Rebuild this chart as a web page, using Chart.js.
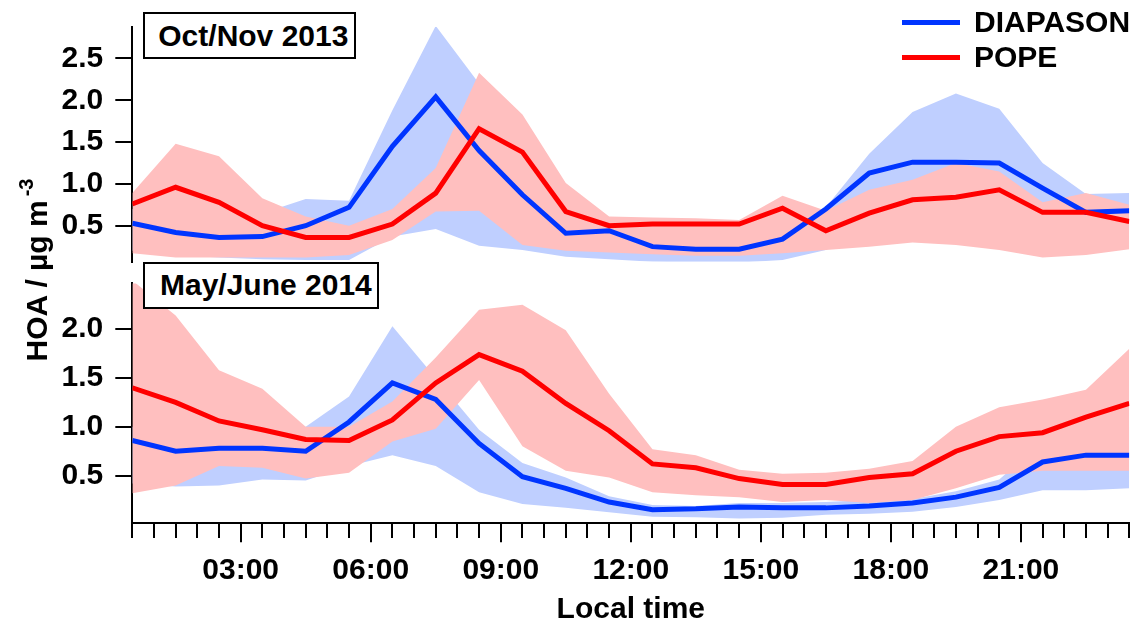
<!DOCTYPE html>
<html>
<head>
<meta charset="utf-8">
<script src="https://cdn.jsdelivr.net/npm/chart.js@4.4.0/dist/chart.umd.min.js"></script>
<style>
  html, body { margin: 0; padding: 0; background: #fff; }
  body { width: 1138px; height: 630px; position: relative; overflow: hidden;
         font-family: "Liberation Sans", Arial, sans-serif; font-weight: bold; color: #000; }
  canvas { position: absolute; left: 0; }
  #cTop { top: 0px; }
  #cBot { top: 272px; }
  .panel { position: absolute; box-sizing: border-box; border: 2px solid #000; background: #fff;
           font-size: 30px; white-space: nowrap; }
  .leg { position: absolute; font-size: 30px; line-height: 36px; white-space: nowrap; }
  .legline { position: absolute; width: 58px; height: 5px; }
  #ytitle { position: absolute; left: -78px; top: 255px; width: 230px; height: 30px; line-height: 30px;
            font-size: 30px; text-align: center; white-space: nowrap; transform: rotate(-90deg);
            transform-origin: 50% 50%; }
  #ytitle .sup { font-size: 20px; position: relative; top: -14px; margin-left: 4px; }
</style>
</head>
<body>
<canvas id="cTop" width="1138" height="272"></canvas>
<canvas id="cBot" width="1138" height="358"></canvas>
<div id="ytitle">HOA / µg m<span class="sup">-3</span></div>
<div id="legend"></div>
<div id="panels"></div>
<script>
// ---- data ----
const hours = [0.5, 1.5, 2.5, 3.5, 4.5, 5.5, 6.5, 7.5, 8.5, 9.5, 10.5, 11.5,
               12.5, 13.5, 14.5, 15.5, 16.5, 17.5, 18.5, 19.5, 20.5, 21.5, 22.5, 23.5];

const seriesNames = ['DIAPASON', 'POPE'];
const panelTitles = ['Oct/Nov 2013', 'May/June 2014'];

// Oct/Nov 2013
const diapasonOct      = [0.53, 0.42, 0.36, 0.37, 0.50, 0.72, 1.45, 2.04, 1.40, 0.87, 0.41, 0.44, 0.25, 0.22, 0.22, 0.34, 0.70, 1.13, 1.26, 1.26, 1.25, 0.95, 0.66, 0.68];
const diapasonOctUpper = [0.70, 0.62, 0.58, 0.65, 0.82, 0.80, 1.88, 2.89, 2.20, 1.30, 0.60, 0.55, 0.45, 0.42, 0.42, 0.50, 0.72, 1.36, 1.86, 2.08, 1.90, 1.25, 0.88, 0.89];
const diapasonOctLower = [0.20, 0.15, 0.12, 0.10, 0.09, 0.09, 0.37, 0.46, 0.26, 0.21, 0.13, 0.10, 0.07, 0.06, 0.06, 0.09, 0.21, 0.45, 0.55, 0.60, 0.60, 0.50, 0.40, 0.42];
const popeOct          = [0.76, 0.96, 0.78, 0.50, 0.36, 0.36, 0.52, 0.89, 1.66, 1.38, 0.67, 0.50, 0.52, 0.52, 0.52, 0.71, 0.44, 0.65, 0.81, 0.84, 0.93, 0.66, 0.66, 0.55];
const popeOctUpper     = [0.89, 1.48, 1.33, 0.83, 0.61, 0.50, 0.70, 1.19, 2.33, 1.83, 1.01, 0.61, 0.60, 0.59, 0.57, 0.86, 0.68, 0.93, 1.05, 1.25, 1.15, 0.78, 0.89, 0.75];
const popeOctLower     = [0.17, 0.12, 0.12, 0.12, 0.12, 0.15, 0.33, 0.67, 0.68, 0.27, 0.20, 0.18, 0.16, 0.14, 0.14, 0.17, 0.21, 0.25, 0.30, 0.27, 0.21, 0.12, 0.15, 0.22];

// May/June 2014
const diapasonMay      = [0.86, 0.75, 0.78, 0.78, 0.75, 1.05, 1.45, 1.28, 0.83, 0.49, 0.37, 0.23, 0.15, 0.16, 0.18, 0.17, 0.17, 0.19, 0.22, 0.28, 0.38, 0.64, 0.71, 0.71];
const diapasonMayUpper = [1.00, 0.90, 0.95, 0.95, 1.00, 1.31, 2.03, 1.50, 0.97, 0.63, 0.48, 0.29, 0.20, 0.19, 0.22, 0.22, 0.23, 0.25, 0.26, 0.34, 0.46, 0.85, 1.00, 1.00];
const diapasonMayLower = [0.42, 0.39, 0.40, 0.46, 0.45, 0.60, 0.71, 0.60, 0.33, 0.21, 0.17, 0.125, 0.08, 0.075, 0.06, 0.07, 0.10, 0.11, 0.13, 0.18, 0.25, 0.35, 0.35, 0.37];
const popeMay          = [1.40, 1.25, 1.06, 0.97, 0.87, 0.86, 1.07, 1.45, 1.74, 1.57, 1.24, 0.96, 0.62, 0.58, 0.47, 0.41, 0.41, 0.48, 0.52, 0.75, 0.90, 0.94, 1.10, 1.24];
const popeMayUpper     = [2.50, 2.14, 1.58, 1.39, 1.00, 1.00, 1.26, 1.71, 2.20, 2.25, 1.99, 1.34, 0.77, 0.71, 0.56, 0.52, 0.53, 0.57, 0.65, 1.00, 1.20, 1.28, 1.38, 1.80];
const popeMayLower     = [0.32, 0.40, 0.60, 0.58, 0.47, 0.53, 0.85, 0.98, 1.48, 0.80, 0.55, 0.48, 0.33, 0.30, 0.28, 0.23, 0.25, 0.22, 0.25, 0.37, 0.51, 0.55, 0.55, 0.55];

// ticks
const xMajorHours  = [3, 6, 9, 12, 15, 18, 21];
const xMajorLabels = ['03:00', '06:00', '09:00', '12:00', '15:00', '18:00', '21:00'];
const yTicksTop    = [0.5, 1.0, 1.5, 2.0, 2.5];
const yTicksBottom = [0.5, 1.0, 1.5, 2.0];
const xTitle = 'Local time';

// ---- styles ----
const BLUE = '#0035ff', RED = '#ff0000';
const BLUE_BAND = '#bfcfff', RED_BAND = '#ffbfbf';
const FONT = { family: "'Liberation Sans', Arial, sans-serif", size: 30, weight: 'bold' };
const AXIS_LEFT = 132.3, W = 1138;

const pts = arr => arr.map((v, i) => ({ x: hours[i], y: v }));

function datasets(diap, diapU, diapL, pope, popeU, popeL) {
  const band = { borderWidth: 0, borderColor: 'rgba(0,0,0,0)', pointRadius: 0, pointHoverRadius: 0, tension: 0 };
  const line = { borderWidth: 5, pointRadius: 0, pointHoverRadius: 0, fill: false, tension: 0,
                 borderJoinStyle: 'miter', borderCapStyle: 'butt' };
  return [
    Object.assign({ label: seriesNames[1], data: pts(pope), borderColor: RED }, line),
    Object.assign({ label: seriesNames[0], data: pts(diap), borderColor: BLUE }, line),
    Object.assign({ label: seriesNames[1] + ' upper', data: pts(popeU), fill: '+1', backgroundColor: RED_BAND }, band),
    Object.assign({ label: seriesNames[1] + ' lower', data: pts(popeL), fill: false }, band),
    Object.assign({ label: seriesNames[0] + ' upper', data: pts(diapU), fill: '+1', backgroundColor: BLUE_BAND }, band),
    Object.assign({ label: seriesNames[0] + ' lower', data: pts(diapL), fill: false }, band)
  ];
}

function yScale(min, max, ticks) {
  return {
    type: 'linear', min: min, max: max,
    afterBuildTicks: s => { s.ticks = ticks.map(v => ({ value: v })); },
    afterFit: s => { s.width = AXIS_LEFT; s.paddingTop = 0; s.paddingBottom = 0; },
    border: { display: true, color: '#000', width: 2 },
    grid: { display: true, drawOnChartArea: false, drawTicks: true, tickLength: 17,
            tickWidth: 2, tickColor: '#000', lineWidth: 2, color: '#000' },
    ticks: { color: '#000', font: FONT, padding: 12, callback: v => Number(v).toFixed(1) }
  };
}

function xScale(show, height) {
  return {
    type: 'linear', min: hours[0], max: hours[hours.length - 1], display: show,
    afterBuildTicks: sc => {
      const t = [];
      for (let h = hours[0]; h <= hours[hours.length - 1] + 1e-9; h += 0.5) t.push({ value: h });
      sc.ticks = t;
    },
    afterFit: sc => { sc.paddingLeft = 0; sc.paddingRight = 0; if (show) sc.height = height; },
    border: { display: true, color: '#000', width: 2 },
    grid: { display: true, drawOnChartArea: false, drawTicks: true, tickLength: 19,
            tickWidth: 2, tickColor: '#000', lineWidth: 2, color: '#000',
            tickBorderDash: ctx => (ctx.tick && xMajorHours.includes(ctx.tick.value)) ? [] : [14, 60] },
    ticks: { color: '#000', font: FONT, padding: 10, autoSkip: false, maxRotation: 0, minRotation: 0,
             callback: v => { const k = xMajorHours.indexOf(v); return k >= 0 ? xMajorLabels[k] : ''; } },
    title: { display: true, text: xTitle, color: '#000', font: FONT, padding: { top: 0, bottom: 2 } }
  };
}

function opts(yS, xS, padding) {
  return {
    responsive: false, animation: false, devicePixelRatio: 1,
    layout: { padding: padding },
    plugins: { legend: { display: false }, tooltip: { enabled: false } },
    events: [],
    scales: { x: xS, y: yS }
  };
}

new Chart(document.getElementById('cTop'), {
  type: 'line',
  data: { datasets: datasets(diapasonOct, diapasonOctUpper, diapasonOctLower, popeOct, popeOctUpper, popeOctLower) },
  options: opts(yScale(0.07, 2.88, yTicksTop), xScale(false, 0),
                { left: 0, right: W - 1129.3, top: 26.7, bottom: 272 - 261.7 })
});

new Chart(document.getElementById('cBot'), {
  type: 'line',
  data: { datasets: datasets(diapasonMay, diapasonMayUpper, diapasonMayLower, popeMay, popeMayUpper, popeMayLower) },
  options: opts(yScale(0.012, 2.47, yTicksBottom), xScale(true, 358 - 251.3),
                { left: 0, right: W - 1129.3, top: 11.3, bottom: 0 })
});

// ---- legend (HTML) ----
const legendColors = [BLUE, RED];
const legendY = [22.3, 57.3];
const legEl = document.getElementById('legend');
seriesNames.forEach((name, i) => {
  const ln = document.createElement('div');
  ln.className = 'legline';
  ln.style.left = '902px';
  ln.style.top = (legendY[i] - 2.5) + 'px';
  ln.style.background = legendColors[i];
  legEl.appendChild(ln);
  const tx = document.createElement('div');
  tx.className = 'leg';
  tx.style.left = '974px';
  tx.style.top = (legendY[i] - 18.5) + 'px';
  tx.textContent = name;
  legEl.appendChild(tx);
});

// ---- panel labels (HTML) ----
const panelBoxes = [
  { left: 142.7, top: 11.7, width: 213.3, height: 47.6, pad: 13.6 },
  { left: 143.3, top: 262.3, width: 235.7, height: 46.7, pad: 14.7 }
];
const pEl = document.getElementById('panels');
panelTitles.forEach((t, i) => {
  const b = panelBoxes[i];
  const d = document.createElement('div');
  d.className = 'panel';
  d.style.left = b.left + 'px';
  d.style.top = b.top + 'px';
  d.style.width = b.width + 'px';
  d.style.height = b.height + 'px';
  d.style.lineHeight = (b.height - 4) + 'px';
  d.style.paddingLeft = b.pad + 'px';
  d.textContent = t;
  pEl.appendChild(d);
});
</script>
</body>
</html>
